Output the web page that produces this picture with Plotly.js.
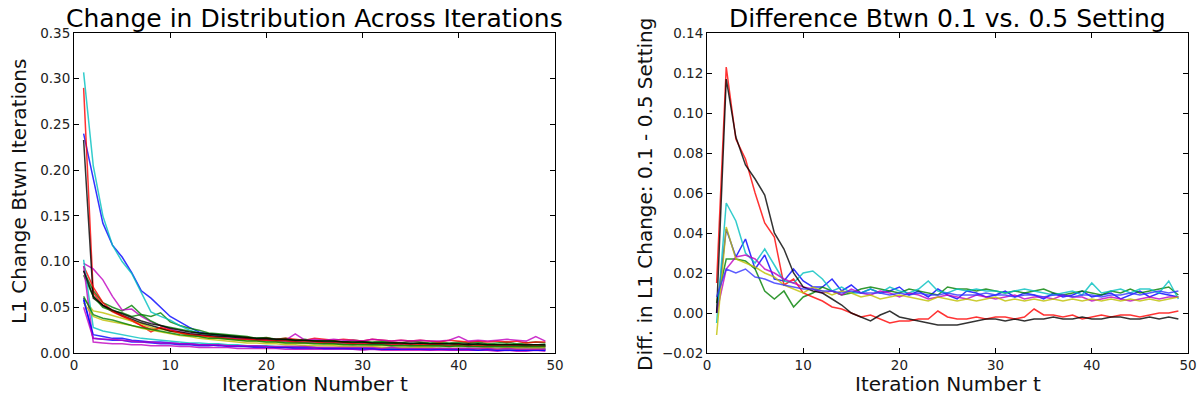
<!DOCTYPE html>
<html>
<head>
<meta charset="utf-8">
<script src="https://cdn.plot.ly/plotly-3.0.1.min.js"></script>
<style>html,body{margin:0;padding:0;background:#fff;}#chart{width:1201px;height:402px;}</style>
</head>
<body>
<div id="chart"></div>
<script>
// Iterations
const iterations = Array.from({length: 49}, (_, i) => i + 1);

// Left panel: L1 change between iterations (one series per run)
const leftColors = ['#0000ff','#008000','#ff0000','#00bfbf','#bf00bf','#bfbf00','#000000','#0000ff','#008000','#ff0000','#00bfbf','#bf00bf','#bfbf00','#000000','#0000ff','#008000','#bf00bf'];
const L_b1 = [0.240,0.190,0.142,0.118,0.105,0.088,0.068,0.060,0.050,0.040,0.034,0.028,0.023,0.021,0.019,0.018,0.016,0.015,0.014,0.014,0.013,0.012,0.012,0.011,0.011,0.010,0.011,0.010,0.009,0.010,0.009,0.009,0.008,0.009,0.008,0.008,0.008,0.007,0.008,0.007,0.007,0.007,0.006,0.007,0.006,0.006,0.006,0.006,0.005];
const L_g1 = [0.090,0.068,0.055,0.050,0.046,0.052,0.042,0.040,0.044,0.034,0.030,0.027,0.025,0.022,0.021,0.020,0.019,0.018,0.016,0.017,0.015,0.016,0.014,0.015,0.013,0.014,0.013,0.012,0.014,0.013,0.012,0.013,0.012,0.011,0.013,0.012,0.011,0.012,0.011,0.012,0.011,0.012,0.010,0.011,0.012,0.010,0.011,0.012,0.011];
const L_r1 = [0.290,0.066,0.052,0.045,0.040,0.035,0.030,0.026,0.027,0.024,0.022,0.020,0.019,0.020,0.018,0.017,0.016,0.017,0.015,0.016,0.015,0.016,0.015,0.014,0.016,0.015,0.014,0.015,0.014,0.013,0.015,0.014,0.013,0.014,0.013,0.014,0.013,0.012,0.014,0.013,0.012,0.013,0.012,0.013,0.012,0.013,0.011,0.012,0.012];
const L_c1 = [0.307,0.205,0.150,0.118,0.100,0.087,0.066,0.045,0.040,0.036,0.030,0.025,0.022,0.020,0.018,0.017,0.016,0.015,0.014,0.013,0.013,0.012,0.012,0.011,0.011,0.011,0.010,0.010,0.010,0.009,0.010,0.009,0.009,0.009,0.008,0.009,0.008,0.008,0.008,0.008,0.008,0.007,0.008,0.007,0.007,0.008,0.007,0.007,0.007];
const L_m1 = [0.098,0.092,0.080,0.062,0.047,0.048,0.040,0.034,0.030,0.026,0.023,0.021,0.020,0.018,0.017,0.016,0.016,0.015,0.015,0.014,0.015,0.014,0.021,0.014,0.015,0.014,0.015,0.014,0.014,0.013,0.015,0.014,0.013,0.014,0.013,0.014,0.013,0.013,0.014,0.018,0.013,0.014,0.013,0.014,0.015,0.014,0.013,0.018,0.013];
const L_y1 = [0.060,0.046,0.044,0.041,0.038,0.035,0.032,0.028,0.026,0.024,0.022,0.020,0.018,0.017,0.016,0.015,0.014,0.013,0.013,0.012,0.012,0.011,0.011,0.010,0.010,0.010,0.009,0.009,0.009,0.009,0.008,0.008,0.008,0.008,0.008,0.007,0.008,0.007,0.007,0.007,0.007,0.007,0.006,0.007,0.006,0.006,0.006,0.006,0.006];
const L_k1 = [0.233,0.060,0.052,0.046,0.041,0.037,0.033,0.030,0.027,0.024,0.023,0.021,0.020,0.019,0.018,0.018,0.017,0.016,0.015,0.015,0.014,0.014,0.013,0.013,0.013,0.012,0.012,0.012,0.011,0.012,0.011,0.011,0.011,0.010,0.011,0.010,0.010,0.010,0.010,0.009,0.010,0.009,0.009,0.009,0.009,0.009,0.008,0.009,0.008];
const L_b2 = [0.060,0.016,0.015,0.014,0.014,0.012,0.012,0.011,0.010,0.010,0.009,0.009,0.008,0.008,0.009,0.007,0.007,0.007,0.006,0.006,0.006,0.006,0.005,0.005,0.005,0.005,0.005,0.005,0.004,0.004,0.004,0.004,0.004,0.004,0.004,0.004,0.003,0.004,0.003,0.003,0.003,0.003,0.003,0.003,0.003,0.003,0.003,0.003,0.003];
const L_g2 = [0.085,0.062,0.050,0.046,0.044,0.040,0.042,0.035,0.030,0.028,0.026,0.024,0.022,0.021,0.020,0.019,0.018,0.017,0.016,0.016,0.015,0.015,0.014,0.014,0.013,0.013,0.013,0.012,0.012,0.012,0.011,0.012,0.011,0.011,0.010,0.011,0.010,0.010,0.010,0.010,0.009,0.010,0.009,0.009,0.010,0.009,0.009,0.009,0.009];
const L_r2 = [0.095,0.072,0.055,0.046,0.041,0.036,0.030,0.023,0.028,0.025,0.022,0.020,0.019,0.018,0.017,0.016,0.015,0.015,0.014,0.014,0.013,0.013,0.012,0.012,0.012,0.011,0.011,0.011,0.010,0.010,0.010,0.010,0.009,0.010,0.009,0.009,0.009,0.009,0.008,0.009,0.008,0.008,0.008,0.008,0.008,0.008,0.007,0.008,0.007];
const L_c2 = [0.102,0.028,0.024,0.022,0.020,0.018,0.016,0.015,0.014,0.013,0.012,0.011,0.011,0.010,0.010,0.009,0.009,0.008,0.008,0.008,0.007,0.007,0.007,0.007,0.006,0.006,0.006,0.006,0.006,0.006,0.005,0.005,0.005,0.005,0.005,0.005,0.005,0.005,0.005,0.004,0.005,0.004,0.004,0.004,0.004,0.004,0.004,0.004,0.004];
const L_m2 = [0.095,0.012,0.011,0.010,0.010,0.009,0.009,0.008,0.008,0.008,0.007,0.007,0.006,0.006,0.006,0.006,0.005,0.005,0.005,0.005,0.005,0.004,0.004,0.004,0.004,0.004,0.004,0.004,0.004,0.003,0.004,0.003,0.003,0.003,0.003,0.003,0.003,0.003,0.003,0.003,0.003,0.003,0.003,0.002,0.003,0.002,0.002,0.003,0.002];
const L_y2 = [0.055,0.040,0.036,0.034,0.032,0.030,0.027,0.025,0.023,0.021,0.019,0.018,0.016,0.015,0.014,0.013,0.012,0.011,0.011,0.010,0.010,0.009,0.009,0.008,0.008,0.008,0.008,0.007,0.007,0.007,0.007,0.006,0.006,0.006,0.006,0.006,0.006,0.005,0.005,0.005,0.005,0.005,0.005,0.005,0.005,0.005,0.004,0.005,0.004];
const L_k2 = [0.090,0.062,0.052,0.047,0.043,0.039,0.035,0.032,0.030,0.027,0.025,0.023,0.022,0.021,0.020,0.019,0.018,0.017,0.016,0.016,0.015,0.015,0.014,0.014,0.013,0.013,0.013,0.012,0.012,0.012,0.011,0.011,0.011,0.011,0.010,0.011,0.010,0.010,0.010,0.010,0.009,0.010,0.009,0.009,0.009,0.009,0.009,0.009,0.009];
const L_b3 = [0.058,0.020,0.018,0.016,0.016,0.014,0.013,0.012,0.012,0.011,0.010,0.010,0.009,0.009,0.008,0.008,0.008,0.007,0.007,0.007,0.006,0.006,0.006,0.006,0.006,0.005,0.005,0.005,0.005,0.005,0.005,0.004,0.004,0.004,0.004,0.004,0.004,0.004,0.004,0.004,0.004,0.003,0.004,0.003,0.003,0.003,0.003,0.003,0.003];
const L_g3 = [0.062,0.042,0.038,0.036,0.033,0.030,0.028,0.026,0.024,0.022,0.020,0.019,0.018,0.016,0.016,0.015,0.014,0.013,0.013,0.012,0.012,0.011,0.011,0.011,0.010,0.010,0.010,0.009,0.009,0.009,0.009,0.009,0.008,0.008,0.008,0.008,0.008,0.008,0.007,0.008,0.007,0.007,0.007,0.007,0.007,0.007,0.007,0.007,0.007];
const L_m3 = [0.050,0.016,0.015,0.015,0.014,0.013,0.012,0.012,0.011,0.011,0.010,0.010,0.009,0.009,0.009,0.008,0.008,0.008,0.008,0.007,0.007,0.007,0.007,0.007,0.006,0.006,0.006,0.006,0.006,0.006,0.006,0.005,0.006,0.005,0.005,0.005,0.005,0.005,0.005,0.005,0.005,0.005,0.005,0.004,0.005,0.004,0.004,0.004,0.004];
const leftSeries = [L_b1,L_g1,L_r1,L_c1,L_m1,L_y1,L_k1,L_b2,L_g2,L_r2,L_c2,L_m2,L_y2,L_k2,L_b3,L_g3,L_m3];

// Right panel: difference between 0.1 and 0.5 settings
const rightColors = ['#0000ff','#008000','#ff0000','#00bfbf','#bf00bf','#bfbf00','#000000','#3333ff'];
const R_b = [0.000,0.042,0.028,0.037,0.022,0.029,0.017,0.016,0.022,0.016,0.013,0.013,0.017,0.011,0.014,0.010,0.012,0.010,0.011,0.013,0.009,0.011,0.008,0.012,0.009,0.007,0.011,0.010,0.008,0.009,0.011,0.008,0.010,0.009,0.007,0.010,0.008,0.009,0.011,0.008,0.009,0.010,0.007,0.009,0.011,0.008,0.010,0.009,0.008];
const R_g = [0.005,0.027,0.027,0.026,0.022,0.011,0.007,0.011,0.003,0.008,0.010,0.013,0.011,0.009,0.010,0.012,0.013,0.012,0.011,0.010,0.012,0.011,0.010,0.009,0.013,0.012,0.012,0.011,0.012,0.011,0.010,0.011,0.010,0.011,0.012,0.010,0.009,0.010,0.011,0.010,0.009,0.011,0.010,0.012,0.010,0.011,0.012,0.013,0.009];
const R_r = [0.015,0.123,0.087,0.077,0.060,0.045,0.038,0.014,0.017,0.010,0.008,0.006,0.003,0.002,0.000,-0.002,-0.001,-0.003,-0.005,-0.004,-0.004,-0.003,-0.003,0.001,-0.002,-0.003,-0.003,-0.002,-0.003,-0.002,-0.002,-0.003,-0.002,0.002,-0.001,-0.001,-0.002,-0.001,-0.003,-0.002,-0.001,-0.002,-0.001,-0.001,-0.002,-0.001,0.000,0.000,0.001];
const R_c = [-0.005,0.055,0.046,0.030,0.025,0.032,0.024,0.016,0.015,0.020,0.021,0.017,0.011,0.013,0.010,0.010,0.012,0.010,0.013,0.011,0.010,0.012,0.016,0.011,0.010,0.012,0.011,0.012,0.011,0.011,0.010,0.011,0.012,0.011,0.010,0.009,0.010,0.011,0.009,0.015,0.010,0.011,0.012,0.010,0.012,0.012,0.010,0.016,0.007];
const R_m = [0.000,0.022,0.028,0.029,0.027,0.022,0.020,0.017,0.015,0.013,0.012,0.010,0.011,0.009,0.012,0.010,0.009,0.011,0.010,0.008,0.010,0.009,0.007,0.008,0.009,0.008,0.007,0.009,0.008,0.007,0.008,0.009,0.007,0.008,0.008,0.007,0.009,0.008,0.008,0.006,0.007,0.008,0.007,0.006,0.007,0.008,0.007,0.008,0.008];
const R_y = [-0.011,0.043,0.027,0.025,0.023,0.020,0.018,0.014,0.012,0.010,0.013,0.011,0.009,0.011,0.010,0.008,0.009,0.007,0.008,0.009,0.008,0.007,0.006,0.008,0.007,0.006,0.007,0.006,0.007,0.008,0.006,0.007,0.006,0.007,0.006,0.007,0.006,0.007,0.006,0.007,0.006,0.007,0.006,0.007,0.006,0.007,0.006,0.007,0.008];
const R_k = [0.000,0.117,0.088,0.074,0.067,0.059,0.040,0.032,0.020,0.013,0.011,0.010,0.007,0.004,0.000,-0.002,-0.004,-0.001,0.001,-0.002,-0.003,-0.004,-0.005,-0.006,-0.006,-0.006,-0.005,-0.004,-0.003,-0.003,-0.004,-0.003,-0.004,-0.003,-0.003,-0.002,-0.003,-0.003,-0.002,-0.003,-0.003,-0.002,-0.002,-0.003,-0.003,-0.002,-0.003,-0.002,-0.003];
const R_b2 = [0.008,0.022,0.020,0.022,0.018,0.017,0.015,0.014,0.013,0.012,0.012,0.011,0.011,0.010,0.011,0.010,0.010,0.010,0.009,0.010,0.009,0.010,0.009,0.009,0.010,0.009,0.009,0.009,0.010,0.009,0.009,0.008,0.009,0.009,0.008,0.009,0.009,0.008,0.009,0.009,0.008,0.009,0.009,0.010,0.009,0.010,0.011,0.010,0.011];
const rightSeries = [R_b,R_g,R_r,R_c,R_m,R_y,R_k,R_b2];

// Text
const leftTitle = 'Change in Distribution Across Iterations';
const rightTitle = 'Difference Btwn 0.1 vs. 0.5 Setting';
const xTitle = 'Iteration Number t';
const leftYTitle = 'L1 Change Btwn Iterations';
const rightYTitle = 'Diff. in L1 Change: 0.1 - 0.5 Setting';

const FONT = 'DejaVu Sans, Arial, sans-serif';
const traces = [];
leftSeries.forEach((s, i) => traces.push({
  x: iterations, y: s, type: 'scatter', mode: 'lines', xaxis: 'x', yaxis: 'y',
  line: {color: leftColors[i], width: 1.5}, opacity: 0.8, showlegend: false, hoverinfo: 'skip'
}));
rightSeries.forEach((s, i) => traces.push({
  x: iterations, y: s, type: 'scatter', mode: 'lines', xaxis: 'x2', yaxis: 'y2',
  line: {color: rightColors[i], width: 1.5}, opacity: 0.8, showlegend: false, hoverinfo: 'skip'
}));

const axBase = {
  showgrid: false, zeroline: false, showline: true, linecolor: '#000', linewidth: 1,
  mirror: 'ticks', ticks: 'inside', ticklen: 5, tickwidth: 1, tickcolor: '#000',
  tickfont: {family: FONT, size: 13.5, color: '#222'}, automargin: false
};
const H = 402, W = 1201;
const yDom = [(H - 353) / H, (H - 33) / H];
const px = v => v / W, py = v => (H - v) / H;
const titleFont = {family: FONT, size: 25, color: '#000'};
const labFont = {family: FONT, size: 20, color: '#111'};
const layout = {
  width: W, height: H, margin: {l: 0, r: 0, t: 0, b: 0},
  paper_bgcolor: '#fff', plot_bgcolor: '#fff', showlegend: false,
  font: {family: FONT},
  xaxis: Object.assign({}, axBase, {domain: [px(74), px(555)], range: [0, 50], tickvals: [0,10,20,30,40,50], anchor: 'y'}),
  yaxis: Object.assign({}, axBase, {domain: yDom, range: [0, 0.35], dtick: 0.05, tick0: 0, tickformat: '.2f', anchor: 'x'}),
  xaxis2: Object.assign({}, axBase, {domain: [px(707), px(1188)], range: [0, 50], tickvals: [0,10,20,30,40,50], anchor: 'y2'}),
  yaxis2: Object.assign({}, axBase, {domain: yDom, range: [-0.02, 0.14], dtick: 0.02, tick0: 0, tickformat: '.2f', anchor: 'x2'}),
  annotations: [
    {text: leftTitle, xref: 'paper', yref: 'paper', x: px(314.5), y: py(19), xanchor: 'center', yanchor: 'middle', showarrow: false, font: titleFont},
    {text: rightTitle, xref: 'paper', yref: 'paper', x: px(947.5), y: py(19), xanchor: 'center', yanchor: 'middle', showarrow: false, font: titleFont},
    {text: xTitle, xref: 'paper', yref: 'paper', x: px(314.5), y: py(384), xanchor: 'center', yanchor: 'middle', showarrow: false, font: labFont},
    {text: xTitle, xref: 'paper', yref: 'paper', x: px(947.5), y: py(384), xanchor: 'center', yanchor: 'middle', showarrow: false, font: labFont},
    {text: leftYTitle, xref: 'paper', yref: 'paper', x: px(19), y: py(192), xanchor: 'center', yanchor: 'middle', textangle: -90, showarrow: false, font: labFont},
    {text: rightYTitle, xref: 'paper', yref: 'paper', x: px(645), y: py(195), xanchor: 'center', yanchor: 'middle', textangle: -90, showarrow: false, font: labFont}
  ]
};
Plotly.newPlot('chart', traces, layout, {staticPlot: true, displayModeBar: false});
</script>
</body>
</html>
